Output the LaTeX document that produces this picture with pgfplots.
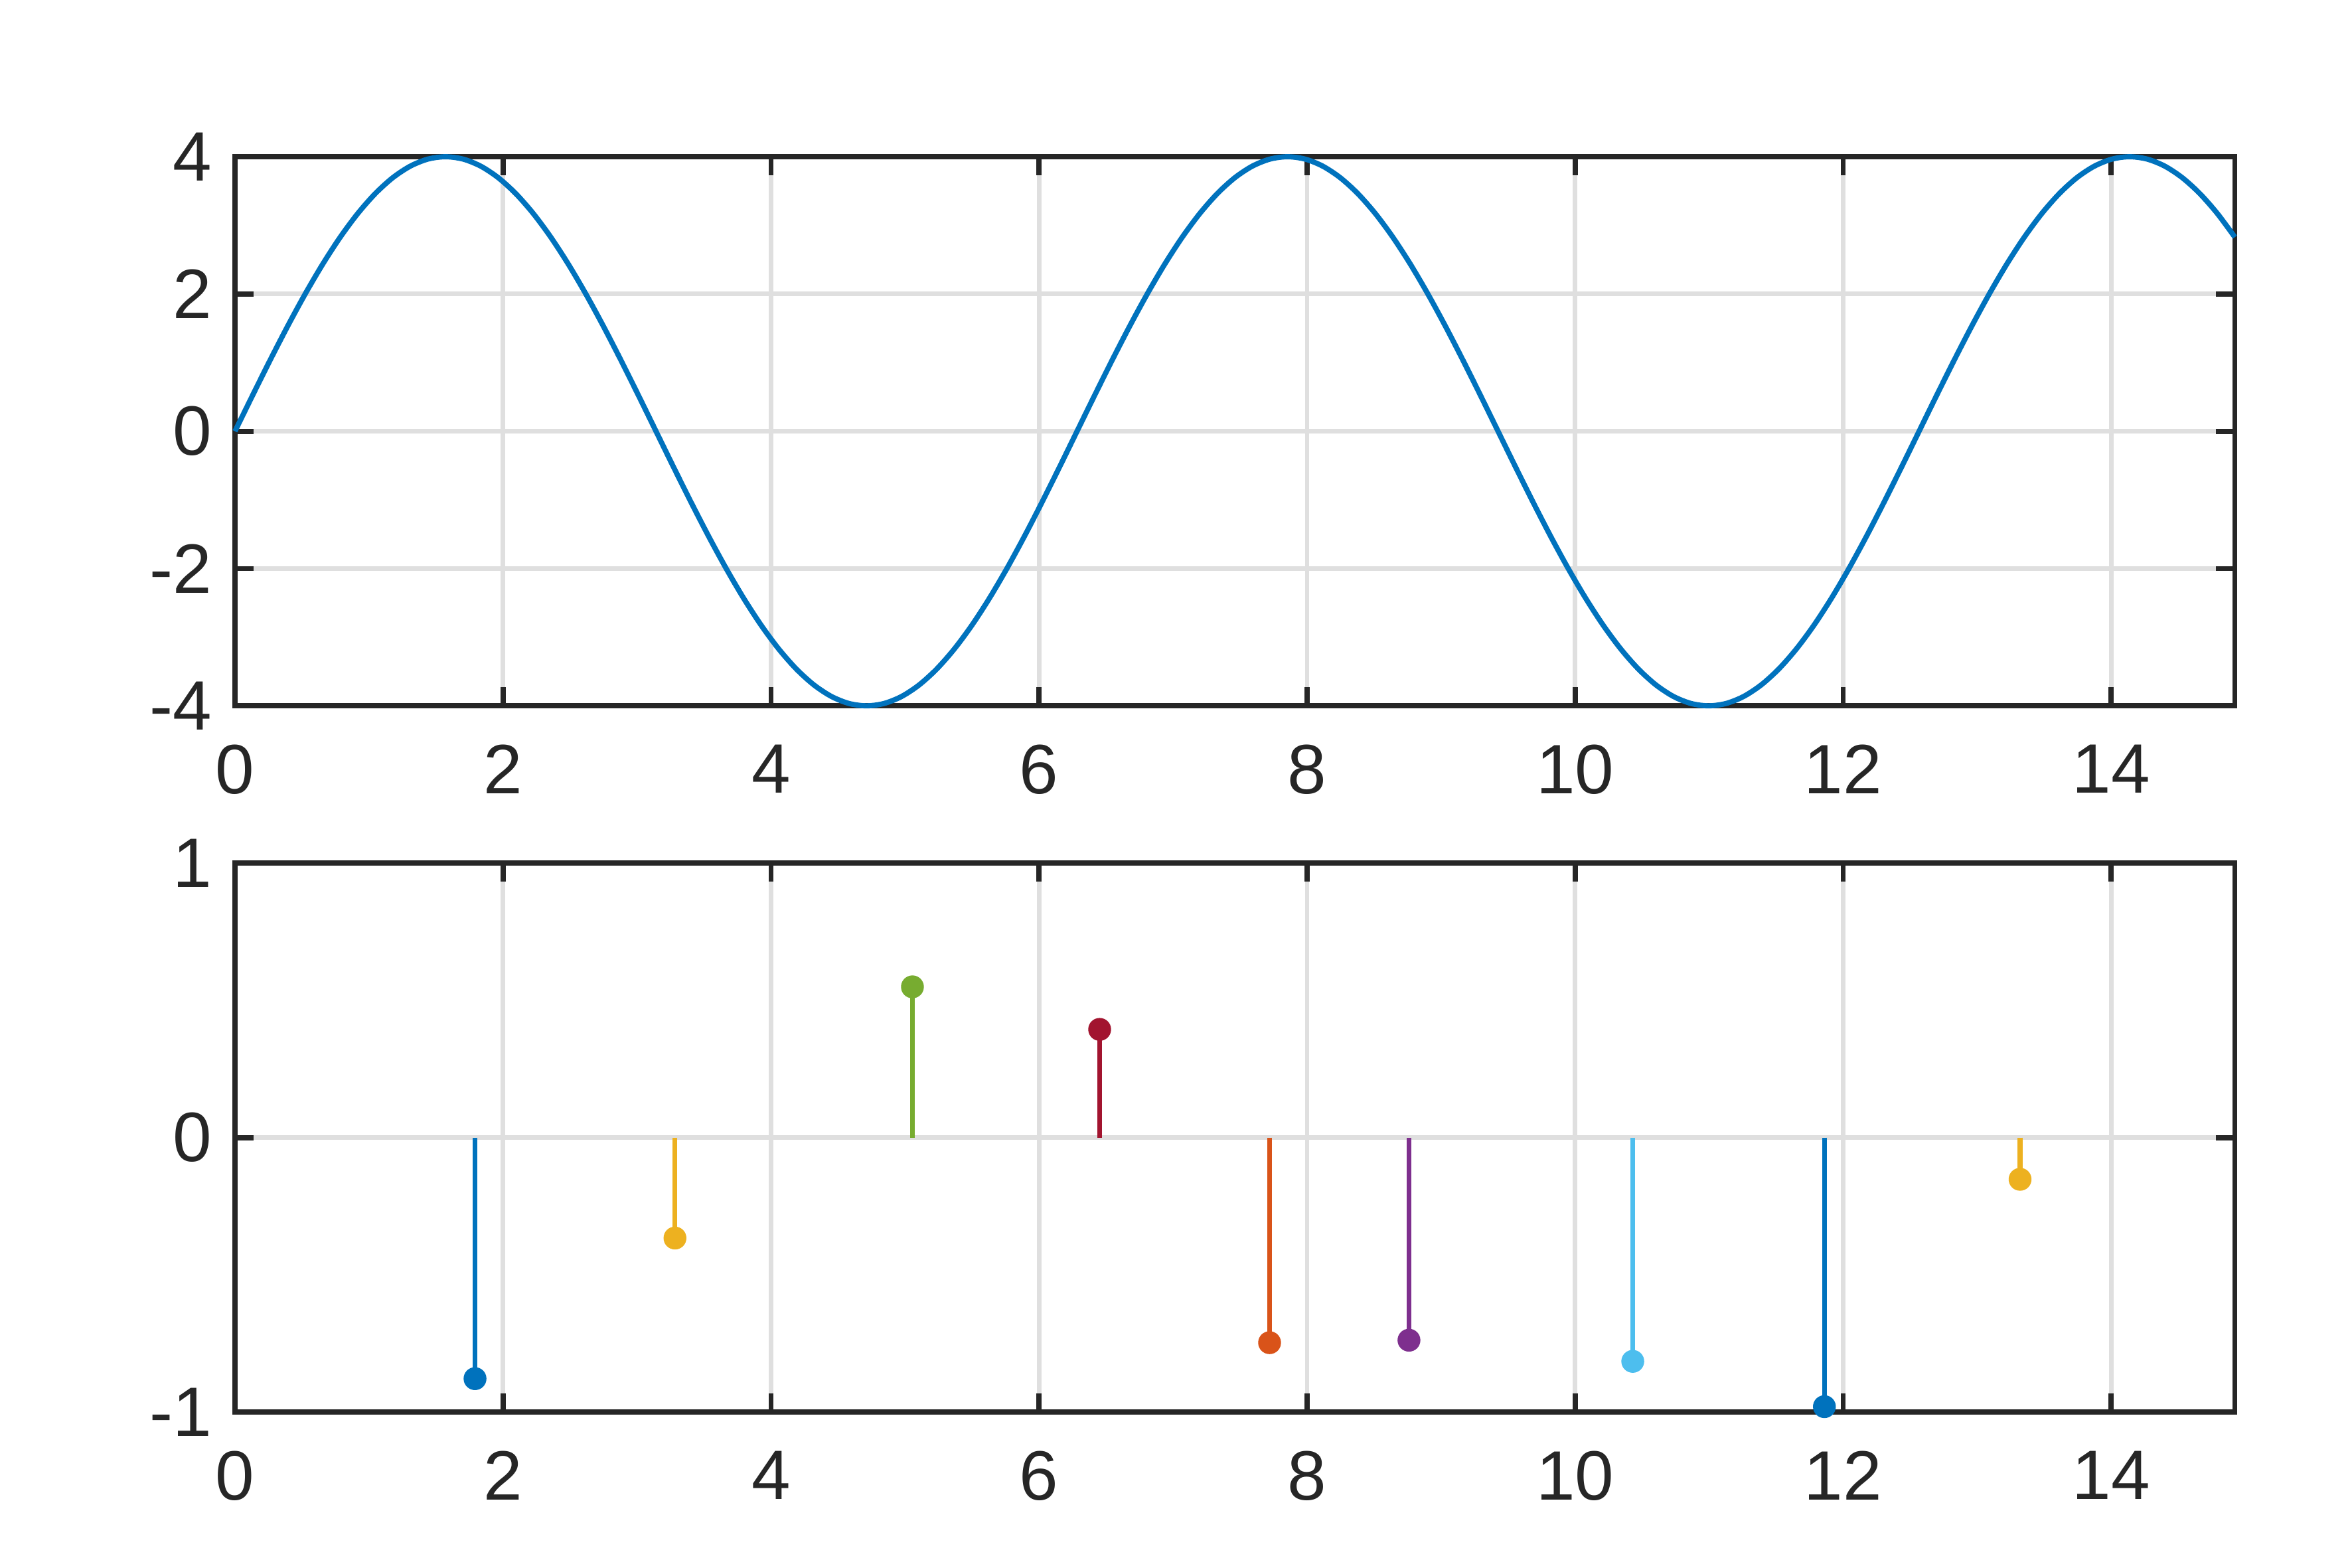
\documentclass[border=0pt]{standalone}
\usepackage{pgfplots}
\pgfplotsset{compat=1.18}
\usepackage{fontspec}
\setmainfont{Liberation Sans}

\definecolor{axgray}{HTML}{262626}
\definecolor{gridgray}{HTML}{DFDFDF}
\definecolor{mblue}{HTML}{0072BD}
\definecolor{morange}{HTML}{D95319}
\definecolor{myellow}{HTML}{EDB120}
\definecolor{mpurple}{HTML}{7E2F8E}
\definecolor{mgreen}{HTML}{77AC30}
\definecolor{mcyan}{HTML}{4DBEEE}
\definecolor{mred}{HTML}{A2142F}

\pgfplotsset{
  mlstyle/.style={
    scale only axis,
    width=306.1pt, height=84.05pt,
    anchor=south west,
    xmin=0, xmax=14.9226,
    xtick={0,2,...,14},
    xticklabels={0,2,4,6,8,10,12,14},
    axis line style={axgray, line width=0.8pt},
    tick style={axgray, line width=0.8pt},
    tick align=inside,
    major tick length=2.85pt,
    grid=major,
    major grid style={gridgray, line width=0.7pt},
    ticklabel style={font=\fontsize{10.7}{12}\selectfont, text=axgray},
    xticklabel style={yshift=-2.4pt},
    clip=false,
  },
}

\begin{document}
\begin{tikzpicture}
% top: 4 sin(x)
\begin{axis}[mlstyle, at={(35.97pt,131.96pt)},
  ymin=-4, ymax=4, ytick={-4,-2,0,2,4}, yticklabels={-4,-2,0,2,4}]
\addplot[mblue, line width=0.8pt, smooth] table {
x y
0 0
0.1309 0.5221
0.2618 1.0353
0.3927 1.5307
0.5236 2.0
0.6545 2.4350
0.7854 2.8284
0.9163 3.1734
1.0472 3.4641
1.1781 3.6955
1.3090 3.8637
1.4399 3.9658
1.5708 4.0
1.7017 3.9658
1.8326 3.8637
1.9635 3.6955
2.0944 3.4641
2.2253 3.1734
2.3562 2.8284
2.4871 2.4350
2.6180 2.0
2.7489 1.5307
2.8798 1.0353
3.0107 0.5221
3.1416 0
3.2725 -0.5221
3.4034 -1.0353
3.5343 -1.5307
3.6652 -2.0
3.7961 -2.4350
3.9270 -2.8284
4.0579 -3.1734
4.1888 -3.4641
4.3197 -3.6955
4.4506 -3.8637
4.5815 -3.9658
4.7124 -4.0
4.8433 -3.9658
4.9742 -3.8637
5.1051 -3.6955
5.2360 -3.4641
5.3669 -3.1734
5.4978 -2.8284
5.6287 -2.4350
5.7596 -2.0
5.8905 -1.5307
6.0214 -1.0353
6.1523 -0.5221
6.2832 0
6.4141 0.5221
6.5450 1.0353
6.6759 1.5307
6.8068 2.0
6.9377 2.4350
7.0686 2.8284
7.1995 3.1734
7.3304 3.4641
7.4613 3.6955
7.5922 3.8637
7.7231 3.9658
7.8540 4.0
7.9849 3.9658
8.1158 3.8637
8.2467 3.6955
8.3776 3.4641
8.5085 3.1734
8.6394 2.8284
8.7703 2.4350
8.9012 2.0
9.0321 1.5307
9.1630 1.0353
9.2939 0.5221
9.4248 0
9.5557 -0.5221
9.6866 -1.0353
9.8175 -1.5307
9.9484 -2.0
10.0793 -2.4350
10.2102 -2.8284
10.3411 -3.1734
10.4720 -3.4641
10.6029 -3.6955
10.7338 -3.8637
10.8647 -3.9658
10.9956 -4.0
11.1265 -3.9658
11.2574 -3.8637
11.3883 -3.6955
11.5192 -3.4641
11.6501 -3.1734
11.7810 -2.8284
11.9119 -2.4350
12.0428 -2.0
12.1737 -1.5307
12.3046 -1.0353
12.4355 -0.5221
12.5664 0
12.6973 0.5221
12.8282 1.0353
12.9591 1.5307
13.0900 2.0
13.2209 2.4350
13.3518 2.8284
13.4827 3.1734
13.6136 3.4641
13.7445 3.6955
13.8754 3.8637
14.0063 3.9658
14.1372 4.0
14.2681 3.9658
14.3990 3.8637
14.5299 3.6955
14.6608 3.4641
14.7917 3.1734
14.9226 2.8284
};
\end{axis}

% bottom: stems
\begin{axis}[mlstyle, at={(35.97pt,23.85pt)},
  ymin=-1, ymax=1, ytick={-1,0,1}, yticklabels={-1,0,1}]
\pgfplotsset{stemst/.style={ycomb, line width=0.75pt, #1, mark=*, mark size=1.6pt, mark options={fill=#1, draw=#1, line width=0.3pt}}}
\addplot[stemst=mblue] coordinates {(1.791,-0.878)};
\addplot[stemst=myellow] coordinates {(3.283,-0.366)};
\addplot[stemst=mgreen] coordinates {(5.055,0.549)};
\addplot[stemst=mred] coordinates {(6.452,0.394)};
\addplot[stemst=morange] coordinates {(7.72,-0.747)};
\addplot[stemst=mpurple] coordinates {(8.76,-0.738)};
\addplot[stemst=mcyan] coordinates {(10.43,-0.815)};
\addplot[stemst=mblue] coordinates {(11.86,-0.980)};
\addplot[stemst=myellow] coordinates {(13.32,-0.152)};
\end{axis}

\pgfresetboundingbox
\useasboundingbox (0,0) rectangle (360pt,240pt);
\end{tikzpicture}
\end{document}
